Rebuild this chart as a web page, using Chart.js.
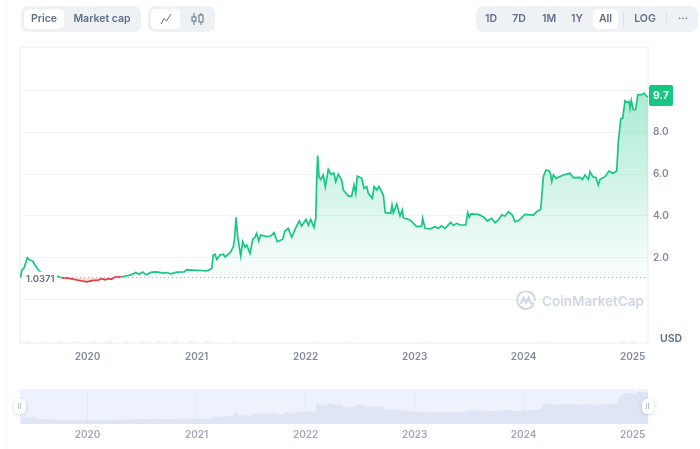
<!DOCTYPE html>
<html>
<head>
<meta charset="utf-8">
<script src="https://cdn.jsdelivr.net/npm/chart.js@4"></script>
<style>
  html, body { margin: 0; padding: 0; background: #fff; }
  body { width: 700px; height: 449px; position: relative; overflow: hidden; font-family: Inter, sans-serif; }
  canvas { position: absolute; left: 0; }
  #main { top: 0; }
  #nav { top: 380px; }
  .edge { position: absolute; left: 6px; top: 0; bottom: 0; width: 1px; background: #f4f5f7; }
  .group { position: absolute; top: 6px; height: 26px; background: #eff2f5; border-radius: 7px; }
  .btn { position: absolute; top: 9px; height: 20px; line-height: 20px; text-align: center; font-size: 10.5px; font-weight: 600; color: #616e85; }
  .on { background: #fff; border-radius: 5px; }
  .sep { position: absolute; top: 12px; height: 14px; width: 1px; background: #dde1e8; }
  .mark { position: absolute; left: 516px; top: 291px; display: flex; align-items: center; }
  .mark span { margin-left: 6px; font-size: 13.5px; font-weight: 600; color: #cfd6e4; }
  .handle { position: absolute; top: 399px; width: 12px; height: 15px; background: #fff; border-radius: 5px; box-shadow: 0 1px 4px rgba(88,102,126,.25); }
  .handle::after { content: ""; position: absolute; left: 4px; top: 4px; width: 1px; height: 6px; background: #b8bfcc; box-shadow: 2px 0 0 #b8bfcc; }
  .unit { position: absolute; left: 660px; top: 332px; font-size: 10.5px; font-weight: 600; color: #616e85; }
</style>
</head>
<body>
<div class="edge"></div>
<canvas id="main" width="700" height="380"></canvas>
<canvas id="nav" width="700" height="69"></canvas>

<div class="group" style="left:21px;width:120px"></div>
<div class="btn on" style="left:24px;width:40px">Price</div>
<div class="btn" style="left:67px;width:70px">Market cap</div>
<div class="group" style="left:148px;width:67px"></div>
<div class="btn on" style="left:151px;width:29px">
  <svg width="12" height="12" viewBox="0 0 12 12" style="margin-top:4px"><path d="M1 11 L4 5.5 L6.5 8 L11 1" fill="none" stroke="#616e85" stroke-width="1"/></svg>
</div>
<div class="btn" style="left:186px;width:22px">
  <svg width="13" height="12" viewBox="0 0 13 12" style="margin-top:4px"><g fill="none" stroke="#616e85" stroke-width="1"><path d="M3 0V12M10 0V12"/><rect x="1" y="4" width="4" height="4" fill="#eff2f5"/><rect x="8" y="2" width="4" height="7" fill="#eff2f5"/></g></svg>
</div>
<div class="group" style="left:476px;width:222px"></div>
<div class="btn" style="left:479px;width:24px">1D</div>
<div class="btn" style="left:507px;width:24px">7D</div>
<div class="btn" style="left:537px;width:24px">1M</div>
<div class="btn" style="left:565px;width:24px">1Y</div>
<div class="btn on" style="left:593px;width:25px">All</div>
<div class="sep" style="left:623px"></div>
<div class="btn" style="left:630px;width:30px">LOG</div>
<div class="sep" style="left:666px"></div>
<div class="btn" style="left:672px;width:22px">···</div>

<div class="mark">
  <svg width="20" height="20" viewBox="0 0 20 20"><path d="M17.6 13.6 A8.8 8.8 0 1 1 18.8 10 M4.6 13 L7.6 6.6 L10 12 L12.6 6.6 L14 11 Q15 13.4 17.6 11.8" fill="none" stroke="#cfd6e4" stroke-width="2"/></svg>
  <span>CoinMarketCap</span>
</div>
<div class="unit">USD</div>
<div class="handle" style="left:14px"></div>
<div class="handle" style="left:642px"></div>

<script>
const dates = [2019.386,2019.396,2019.417,2019.447,2019.472,2019.497,2019.518,2019.539,2019.563,2019.600,2019.655,2019.726,
  2019.763,2019.808,2019.854,2019.915,2019.992,2020.052,2020.098,2020.130,2020.160,2020.187,2020.221,2020.252,2020.313,
  2020.374,2020.405,2020.441,2020.472,2020.506,2020.536,2020.588,2020.634,2020.695,2020.726,2020.763,2020.818,2020.885,
  2020.909,2021.001,2021.093,2021.139,2021.153,2021.169,2021.185,2021.215,2021.245,2021.261,2021.307,2021.337,2021.350,
  2021.362,2021.377,2021.405,2021.423,2021.444,2021.460,2021.490,2021.515,2021.536,2021.551,2021.570,2021.588,2021.643,
  2021.680,2021.710,2021.740,2021.790,2021.811,2021.841,2021.873,2021.903,2021.942,2021.964,2022.004,2022.025,2022.047,
  2022.077,2022.093,2022.102,2022.111,2022.123,2022.139,2022.162,2022.181,2022.208,2022.230,2022.261,2022.276,2022.300,
  2022.331,2022.346,2022.392,2022.423,2022.444,2022.460,2022.474,2022.515,2022.536,2022.561,2022.575,2022.612,2022.628,
  2022.652,2022.673,2022.713,2022.731,2022.781,2022.793,2022.805,2022.836,2022.866,2022.887,2022.896,2022.958,2023.019,
  2023.065,2023.074,2023.095,2023.141,2023.187,2023.217,2023.249,2023.279,2023.331,2023.355,2023.386,2023.417,2023.469,
  2023.487,2023.502,2023.517,2023.584,2023.630,2023.667,2023.707,2023.738,2023.768,2023.799,2023.829,2023.860,2023.896,
  2023.921,2023.951,2024.013,2024.089,2024.120,2024.157,2024.181,2024.205,2024.236,2024.249,2024.258,2024.273,2024.297,
  2024.364,2024.426,2024.456,2024.517,2024.539,2024.563,2024.594,2024.609,2024.634,2024.664,2024.685,2024.701,2024.747,
  2024.783,2024.817,2024.854,2024.869,2024.891,2024.909,2024.930,2024.946,2024.967,2024.976,2024.988,2025.006,2025.028,
  2025.047,2025.083,2025.107,2025.129,2025.141];
const prices = [1.04,1.39,1.5,1.99,1.88,1.83,1.63,1.47,1.33,1.25,1.15,1.10,
  1.02,1.02,0.98,0.91,0.83,0.90,0.91,0.99,0.93,0.98,0.96,1.06,1.07,
  1.14,1.19,1.28,1.20,1.30,1.17,1.30,1.31,1.25,1.28,1.22,1.30,1.31,
  1.41,1.39,1.36,1.47,2.12,2.16,1.91,2.12,2.16,2.03,2.23,2.51,3.0,
  3.93,3.0,2.08,2.76,2.49,2.6,2.2,2.87,2.97,3.16,2.80,3.08,3.0,
  3.03,3.2,2.76,2.88,3.28,3.4,2.97,3.35,3.76,3.51,3.83,3.56,3.83,
  3.45,3.88,5.72,6.89,5.88,5.75,5.96,5.4,6.23,6.01,6.04,5.64,6.0,
  5.72,5.24,4.95,4.95,5.48,5.08,5.91,5.8,5.32,5.4,5.08,4.84,5.4,
  5.24,5.4,5.0,4.15,4.12,4.52,4.15,4.57,3.99,4.28,3.91,3.8,3.48,
  3.51,3.88,3.4,3.37,3.48,3.4,3.52,3.4,3.69,3.54,3.64,3.56,3.56,
  4.15,3.93,4.09,4.07,3.96,3.76,3.88,3.67,3.8,4.04,3.99,4.2,4.04,
  3.72,3.76,4.07,4.04,4.2,4.31,5.88,6.2,6.15,5.96,5.64,5.96,5.8,
  5.96,6.04,5.83,5.85,5.75,5.96,5.75,6.12,5.88,5.83,5.48,5.75,5.88,
  6.15,6.04,6.15,7.56,8.65,8.69,9.52,9.44,9.49,9.17,9.53,9.09,9.09,
  9.81,9.81,9.89,9.73,9.7];
const volumeDates = [2019.45,2019.6,2019.75,2019.9,2020.05,2020.2,2020.35,2020.5,2020.65,2020.8,2020.95,2021.1,2021.35,2022.1,2022.4,2023.1,2024.2,2024.9,2025.0];
const volumes = [0.8,0.5,0.7,0.6,0.8,0.9,0.7,0.7,0.9,0.8,0.9,0.9,0.8,0.5,0.4,0.3,0.4,0.7,0.8];
const yearTicks = [2020,2021,2022,2023,2024,2025];
const priceTicks = [0,2,4,6,8,10];
const labelledPrices = [2,4,6,8];
const baseValue = 1.0371;
const baseLabel = "1.0371";
const lastLabel = "9.7";

const GREEN = "#16c784", RED = "#ea3943", GRID = "#f3f4f6", TEXT = "#808a9d";
const series = dates.map((d, i) => ({ x: d, y: prices[i] }));
const setTicks = list => scale => { scale.ticks = list.map(v => ({ value: v })); };

const overlay = {
  id: "overlay",
  beforeDatasetsDraw(chart) {
    const { ctx, chartArea: a } = chart;
    ctx.save();
    ctx.strokeStyle = GRID;
    ctx.lineWidth = 1.5;
    ctx.strokeRect(a.left, a.top, a.right - a.left, a.bottom - a.top);
    ctx.restore();
  },
  afterDatasetsDraw(chart) {
    const { ctx, chartArea: a, scales } = chart;
    const by = scales.y.getPixelForValue(baseValue);
    ctx.save();
    ctx.strokeStyle = "#a6b0c3";
    ctx.setLineDash([1, 3]);
    ctx.beginPath();
    ctx.moveTo(a.left, by);
    ctx.lineTo(a.right, by);
    ctx.stroke();
    ctx.setLineDash([]);
    // start price label sits on top of the line
    ctx.fillStyle = "#fff";
    ctx.fillRect(a.left + 4, by - 6, 33, 15);
    ctx.font = "600 9.5px Inter";
    ctx.fillStyle = "#616e85";
    ctx.textBaseline = "middle";
    ctx.fillText(baseLabel, a.left + 6, by + 1.5);
    // current price tag
    const ty = scales.y.getPixelForValue(prices[prices.length - 1]) - 1.5;
    ctx.fillStyle = GREEN;
    ctx.beginPath();
    ctx.roundRect(a.right + 1, ty - 10.5, 24, 21, 2);
    ctx.fill();
    ctx.fillStyle = "#fff";
    ctx.font = "700 10.5px Inter";
    ctx.textAlign = "center";
    ctx.fillText(lastLabel, a.right + 13, ty + 0.5);
    ctx.restore();
  }
};

const mainChart = new Chart(document.getElementById("main"), {
  data: {
    datasets: [
      {
        type: "line",
        data: series,
        borderColor: GREEN,
        borderWidth: 1.7,
        pointRadius: 0,
        tension: 0,
        fill: { target: { value: baseValue }, above: "rgba(22,199,132,.15)", below: "rgba(234,57,67,.18)" },
        segment: {
          borderColor: c => (c.p0.parsed.y < baseValue + 0.05 && c.p1.parsed.y < baseValue + 0.1 ? RED : GREEN)
        }
      },
      {
        type: "bar",
        data: volumeDates.map((d, i) => ({ x: d, y: volumes[i] })),
        yAxisID: "vol",
        backgroundColor: "rgba(207,214,228,.22)",
        barThickness: 5
      }
    ]
  },
  options: {
    responsive: false,
    animation: false,
    layout: { padding: { left: 20, top: 47 } },
    plugins: { legend: { display: false }, tooltip: { enabled: false } },
    scales: {
      x: {
        type: "linear",
        offset: false,
        min: 2019.38,
        max: 2025.141,
        afterBuildTicks: setTicks(yearTicks),
        afterFit: s => { s.height = 37; },
        grid: { display: false, drawTicks: false },
        border: { display: false },
        ticks: { color: TEXT, font: { family: "Inter", size: 10, weight: "600" }, padding: 8, maxRotation: 0, callback: v => String(v) }
      },
      y: {
        position: "right",
        min: -2.1,
        max: 12.1,
        afterBuildTicks: setTicks(priceTicks),
        afterFit: s => { s.width = 52; },
        grid: { color: GRID, drawTicks: false },
        border: { display: false },
        ticks: {
          color: TEXT,
          padding: 5,
          font: { family: "Inter", size: 10, weight: "600" },
          callback: v => (labelledPrices.includes(v) ? v.toFixed(1) : "")
        }
      },
      vol: { display: false, min: 0, max: 100 }
    }
  },
  plugins: [overlay]
});

const { y: priceScale } = mainChart.scales;
const grad = mainChart.ctx.createLinearGradient(0, priceScale.getPixelForValue(10), 0, priceScale.getPixelForValue(baseValue));
grad.addColorStop(0, "rgba(22,199,132,.36)");
grad.addColorStop(1, "rgba(22,199,132,.02)");
mainChart.data.datasets[0].fill.above = grad;
mainChart.update();

new Chart(document.getElementById("nav"), {
  type: "line",
  data: {
    datasets: [{
      data: series,
      borderWidth: 0,
      pointRadius: 0,
      tension: 0,
      fill: "start",
      backgroundColor: "#dfe5f4"
    }]
  },
  options: {
    responsive: false,
    animation: false,
    layout: { padding: { left: 20, top: 9 } },
    plugins: {
      legend: { display: false },
      tooltip: { enabled: false }
    },
    scales: {
      x: {
        type: "linear",
        min: 2019.38,
        max: 2025.141,
        afterBuildTicks: setTicks(yearTicks),
        afterFit: s => { s.height = 25; },
        grid: { color: "#e5e9f5", drawTicks: false },
        border: { display: false },
        ticks: { color: "#a1a7b8", font: { family: "Inter", size: 10, weight: "600" }, padding: 5, maxRotation: 0, callback: v => String(v) }
      },
      y: {
        display: true,
        position: "right",
        min: -0.25,
        max: 10.7,
        afterFit: s => { s.width = 52; },
        grid: { display: false },
        border: { display: false },
        ticks: { display: false }
      }
    }
  },
  plugins: [{
    id: "navBack",
    beforeDraw(chart) {
      const { ctx, chartArea: a } = chart;
      ctx.fillStyle = "#eef2fd";
      ctx.fillRect(a.left, a.top, a.right - a.left, a.bottom - a.top);
    }
  }]
});
</script>
</body>
</html>
